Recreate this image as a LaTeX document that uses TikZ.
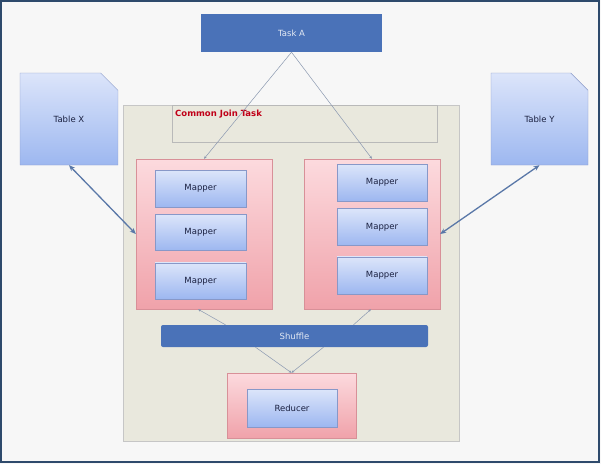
\documentclass[tikz,border=0pt]{standalone}
\usepackage{fontspec}
\setmainfont{DejaVu Sans}
\usepackage{tikz}
\usetikzlibrary{positioning}
\usetikzlibrary{arrows.meta}
\usetikzlibrary{shapes.misc}
\definecolor{taskblue}{HTML}{4A72B8}
\definecolor{joinfill}{HTML}{E9E8DD}
\definecolor{linkgrey}{HTML}{8A98B0}
\definecolor{tablelink}{HTML}{5A78A8}
\definecolor{titlered}{HTML}{C00018}
\definecolor{textnavy}{HTML}{1A2040}
\definecolor{bluetop}{HTML}{DCE5FA}
\definecolor{bluebot}{HTML}{9DB7F0}
\definecolor{blueline}{HTML}{8898C8}
\definecolor{pinktop}{HTML}{FCDADE}
\definecolor{pinkbot}{HTML}{F0A2AA}
\definecolor{pinkline}{HTML}{D89098}
\definecolor{framenavy}{HTML}{2E4A6C}

\begin{document}
\begin{tikzpicture}[x=1pt, y=-1pt,
    bluebar/.style={fill=taskblue, text=white!85!taskblue, font=\fontsize{8.5}{10}\selectfont, inner sep=0pt},
    tbl/.style={chamfered rectangle, chamfered rectangle corners=north east, chamfered rectangle xsep=14pt, chamfered rectangle ysep=14pt,
        draw=blueline, top color=bluetop, bottom color=bluebot, text=textnavy, font=\fontsize{8.5}{10}\selectfont, inner sep=0pt},
    grp/.style={draw=pinkline, top color=pinktop, bottom color=pinkbot, inner sep=0pt},
    task/.style={draw=blueline, top color=bluetop, bottom color=bluebot, text=textnavy,
        minimum width=91pt, minimum height=37pt, font=\fontsize{8.5}{10}\selectfont, inner sep=0pt},
    link/.style={draw=linkgrey, line width=0.5pt, -{Stealth[length=3pt,width=2.5pt]}},
    tlink/.style={draw=tablelink, line width=1.3pt, {Stealth[length=6pt,width=5pt]}-{Stealth[length=6pt,width=5pt]}}]
    \useasboundingbox (0,0) rectangle (601,464);
    \fill[gray!6] (0,0) rectangle (601,464);
    \draw[framenavy, line width=2pt] (1,1) rectangle (599,462);

    \node[bluebar, minimum width=181pt, minimum height=38pt] (taskA) at (291.5,33) {Task A};
    \node[tbl, minimum width=98pt, minimum height=92pt] (tableX) at (69,119) {Table X};
    \node[tbl, minimum width=97pt, minimum height=92pt] (tableY) at (539.5,119) {Table Y};

    % common join task
    \node[draw=gray!45, fill=joinfill, minimum width=336pt, minimum height=336pt] (join) at (291,273) {};
    \node[draw=gray!55, minimum width=265pt, minimum height=37pt] (title) at (304.5,123.5) {};
    \node[anchor=north west, text=titlered, font=\fontsize{8.5}{10}\selectfont\bfseries, inner sep=0pt] (titletext) at (175,110) {Common Join Task};

    \node[grp, minimum width=136pt, minimum height=150pt] (lgrp) at (204,234) {};
    \node[task] (lm1) at (200.5,188.5) {Mapper};
    \node[task, below=7pt of lm1, minimum height=36pt] (lm2) {Mapper};
    \node[task, below=12pt of lm2, minimum height=36pt] (lm3) {Mapper};

    \node[grp, minimum width=136pt, minimum height=150pt] (rgrp) at (372,234) {};
    \node[task, minimum width=90pt] (rm1) at (382,182.5) {Mapper};
    \node[task, below=7pt of rm1, minimum width=90pt] (rm2) {Mapper};
    \node[task, below=11pt of rm2, minimum width=90pt] (rm3) {Mapper};

    \node[bluebar, rounded corners=2pt, minimum width=267pt, minimum height=22pt] (shuffle) at (294.5,336) {Shuffle};

    \node[grp, minimum width=129pt, minimum height=65pt] (rgrp2) at (291.5,405.5) {};
    \node[task, minimum width=90pt, minimum height=38pt] (reducer) at (292,408) {Reducer};

    \draw[link] (taskA.south) -- (lgrp.north);
    \draw[link] (taskA.south) -- (rgrp.north);
    \draw[link] ([xshift=-69pt]shuffle.north) -- ([xshift=-6pt]lgrp.south);
    \draw[link] ([xshift=59pt]shuffle.north) -- ([xshift=-1pt]rgrp.south);
    \draw[link] ([xshift=-39pt]shuffle.south) -- (rgrp2.north);
    \draw[link] ([xshift=29pt]shuffle.south) -- (rgrp2.north);

    \draw[tlink] (tableX.south) -- (lgrp.west);
    \draw[tlink] (tableY.south) -- (rgrp.east);
\end{tikzpicture}
\end{document}
